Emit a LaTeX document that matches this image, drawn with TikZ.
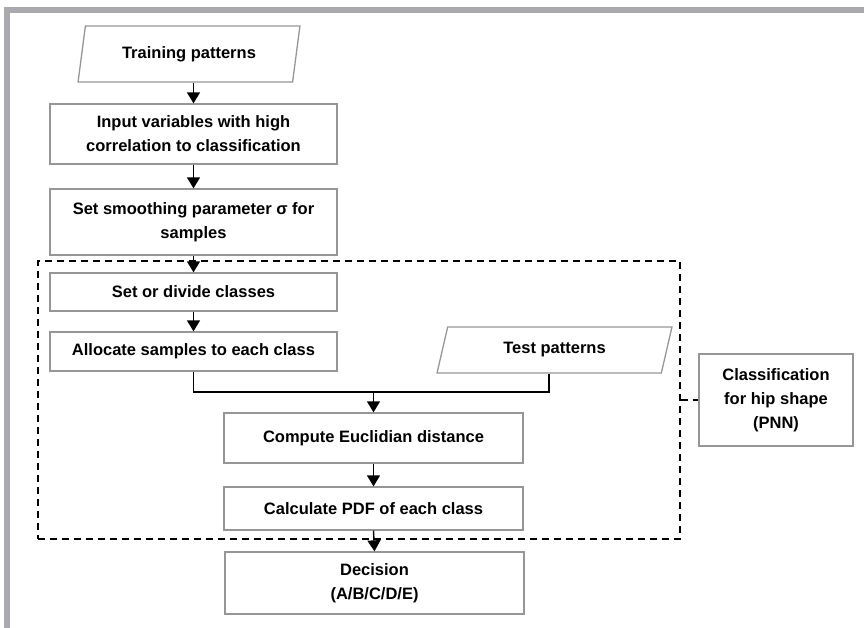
\documentclass[tikz,border=0pt]{standalone}
\usepackage{fontspec}
\setmainfont{Liberation Sans}
\usetikzlibrary{shapes.geometric,arrows.meta}
\definecolor{boxgray}{RGB}{150,150,150}
\definecolor{framegray}{RGB}{170,170,174}
\begin{document}
\begin{tikzpicture}[x=1pt,y=-1pt,
    box/.style={draw=boxgray,line width=1.3pt,align=center,inner sep=0pt,
      font=\bfseries\fontsize{16.5}{24}\selectfont},
    stepbox/.style={box,minimum width=287pt},
    lowbox/.style={box,minimum width=299pt},
    data/.style={box,trapezium,trapezium stretches=true},
    arr/.style={line width=1.4pt,-{Triangle[length=11pt,width=13pt]}},
    link/.style={line width=1.4pt},
    group/.style={draw,line width=1.3pt,dash pattern=on 7pt off 5pt,inner sep=0pt}]
    \useasboundingbox (0,0) rectangle (864,628);
    \draw[framegray,line width=5.5pt] (7,628)--(7,10)--(864,10);
    \node[group,minimum width=642pt,minimum height=278pt] (pnn) at (359,400) {};
    \node[data,minimum width=222pt,minimum height=56pt,trapezium left angle=73,trapezium right angle=107] (train) at (189,54) {Training patterns};
    \node[stepbox,minimum height=60pt] (input) at (193.5,134) {Input variables with high\\correlation to classification};
    \node[stepbox,minimum height=66pt] (smooth) at (193.5,222) {Set smoothing parameter σ for\\samples};
    \node[stepbox,minimum height=38pt] (divide) at (193.5,292) {Set or divide classes};
    \node[stepbox,minimum height=39pt] (alloc) at (193.5,351.5) {Allocate samples to each class};
    \node[data,minimum width=235pt,minimum height=46pt,trapezium left angle=71,trapezium right angle=109] (test) at (554.5,350) {Test patterns};
    \node[lowbox,minimum height=50pt] (compute) at (373.5,438) {Compute Euclidian distance};
    \node[lowbox,minimum height=43pt] (pdf) at (373.5,508.5) {Calculate PDF of each class};
    \node[lowbox,minimum height=62pt] (decision) at (374.5,583) {Decision\\(A/B/C/D/E)};
    \node[box,minimum width=154pt,minimum height=92pt] (classif) at (776,400) {Classification\\for hip shape\\(PNN)};
    \coordinate (merge) at (373.5,392);
    \draw[arr] (train.south -| input.north)--(input.north);
    \draw[arr] (input.south)--(smooth.north);
    \draw[arr] (smooth.south)--(divide.north);
    \draw[arr] (divide.south)--(alloc.north);
    \draw[link] (alloc.south)|-(merge)-|(test.bottom side);
    \draw[arr] (merge)--(compute.north);
    \draw[arr] (compute.south)--(pdf.north);
    \draw[arr] (pdf.south)--(decision.north);
    \draw[line width=1.3pt,dash pattern=on 7pt off 5pt] (pnn.east)--(classif.west);
\end{tikzpicture}
\end{document}
